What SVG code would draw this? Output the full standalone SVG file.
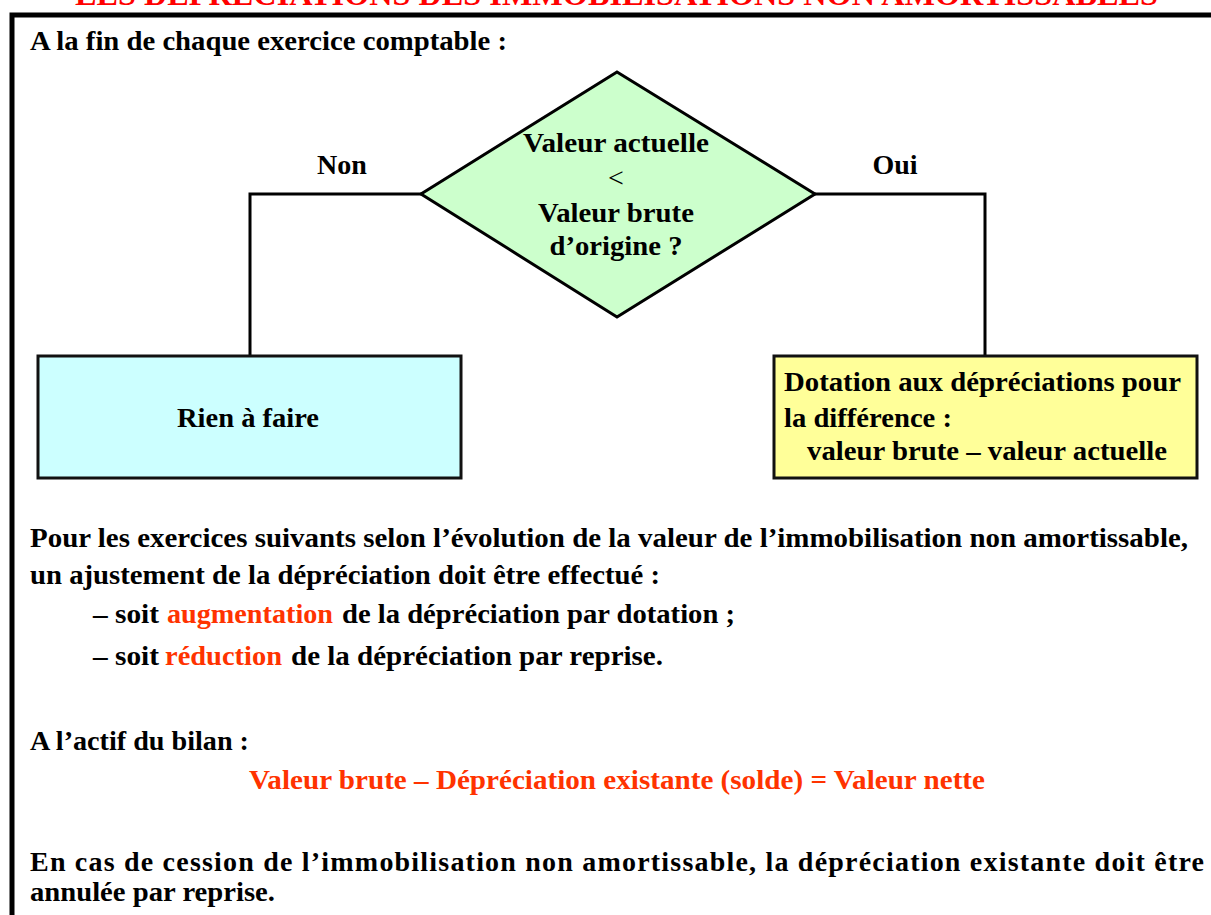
<svg xmlns="http://www.w3.org/2000/svg" width="1211" height="915" viewBox="0 0 1211 915">
<style>
  .t { font-family: "Liberation Serif", "Times New Roman", serif; font-size: 28px; font-weight: bold; fill: #000; }
  .r { fill: #FF3300; }
  .reg { font-weight: normal; }
  .mid { text-anchor: middle; }
  .conn { fill: none; stroke: #000; stroke-width: 3; }
  .box { stroke: #111; stroke-width: 3; }
</style>
<rect x="0" y="0" width="1211" height="915" fill="#fff"/>
<text x="75" y="5" textLength="1083" lengthAdjust="spacingAndGlyphs" style="font-family:'Liberation Serif',serif;font-size:32px;font-weight:bold;fill:#FF0000">LES DÉPRÉCIATIONS DES IMMOBILISATIONS NON AMORTISSABLES</text>
<rect x="12" y="15" width="1220" height="920" fill="none" stroke="#000" stroke-width="5"/>
<text class="t" x="30" y="50" textLength="477" lengthAdjust="spacingAndGlyphs">A la fin de chaque exercice comptable :</text>
<g id="connectors">
  <polyline class="conn" points="421,194 250,194 250,356"/>
  <polyline class="conn" points="815,194 985,194 985,356"/>
  <text class="t mid" x="342" y="174">Non</text>
  <text class="t mid" x="895" y="174">Oui</text>
</g>
<g id="decision">
  <polygon points="617,72 815,194 617,317 421,194" fill="#CCFFCC" stroke="#000" stroke-width="3"/>
  <text class="t mid" x="616" y="152" textLength="186" lengthAdjust="spacingAndGlyphs">Valeur actuelle</text>
  <text class="t mid reg" x="616" y="187">&lt;</text>
  <text class="t mid" x="616" y="222" textLength="156" lengthAdjust="spacingAndGlyphs">Valeur brute</text>
  <text class="t mid" x="616" y="255" textLength="133" lengthAdjust="spacingAndGlyphs">d’origine ?</text>
</g>
<g id="rien">
  <rect class="box" x="38" y="356" width="423" height="122" fill="#CCFFFF"/>
  <text class="t mid" x="248" y="427" textLength="142" lengthAdjust="spacingAndGlyphs">Rien à faire</text>
</g>
<g id="dotation">
  <rect class="box" x="774" y="356" width="423" height="122" fill="#FFFF99"/>
  <text class="t" x="784" y="391" textLength="397" lengthAdjust="spacingAndGlyphs">Dotation aux dépréciations pour</text>
  <text class="t" x="784" y="427" textLength="168" lengthAdjust="spacingAndGlyphs">la différence :</text>
  <text class="t" x="807" y="460" textLength="360" lengthAdjust="spacingAndGlyphs">valeur brute – valeur actuelle</text>
</g>
<text class="t" x="30" y="547" textLength="1158" lengthAdjust="spacingAndGlyphs">Pour les exercices suivants selon l’évolution de la valeur de l’immobilisation non amortissable,</text>
<text class="t" x="30" y="584" textLength="630" lengthAdjust="spacingAndGlyphs">un ajustement de la dépréciation doit être effectué :</text>
<text class="t" x="93" y="623" textLength="66" lengthAdjust="spacingAndGlyphs">– soit</text>
<text class="t r" x="167" y="623" textLength="166" lengthAdjust="spacingAndGlyphs">augmentation</text>
<text class="t" x="342" y="623" textLength="393" lengthAdjust="spacingAndGlyphs">de la dépréciation par dotation ;</text>
<text class="t" x="93" y="665" textLength="66" lengthAdjust="spacingAndGlyphs">– soit</text>
<text class="t r" x="165" y="665" textLength="117" lengthAdjust="spacingAndGlyphs">réduction</text>
<text class="t" x="291" y="665" textLength="372" lengthAdjust="spacingAndGlyphs">de la dépréciation par reprise.</text>
<text class="t" x="30" y="750" textLength="219" lengthAdjust="spacingAndGlyphs">A l’actif du bilan :</text>
<text class="t r" x="249" y="789" textLength="736" lengthAdjust="spacingAndGlyphs">Valeur brute – Dépréciation existante (solde) = Valeur nette</text>
<text class="t" x="30" y="871" textLength="1174" lengthAdjust="spacing">En cas de cession de l’immobilisation non amortissable, la dépréciation existante doit être</text>
<text class="t" x="30" y="901" textLength="245" lengthAdjust="spacingAndGlyphs">annulée par reprise.</text>
</svg>
